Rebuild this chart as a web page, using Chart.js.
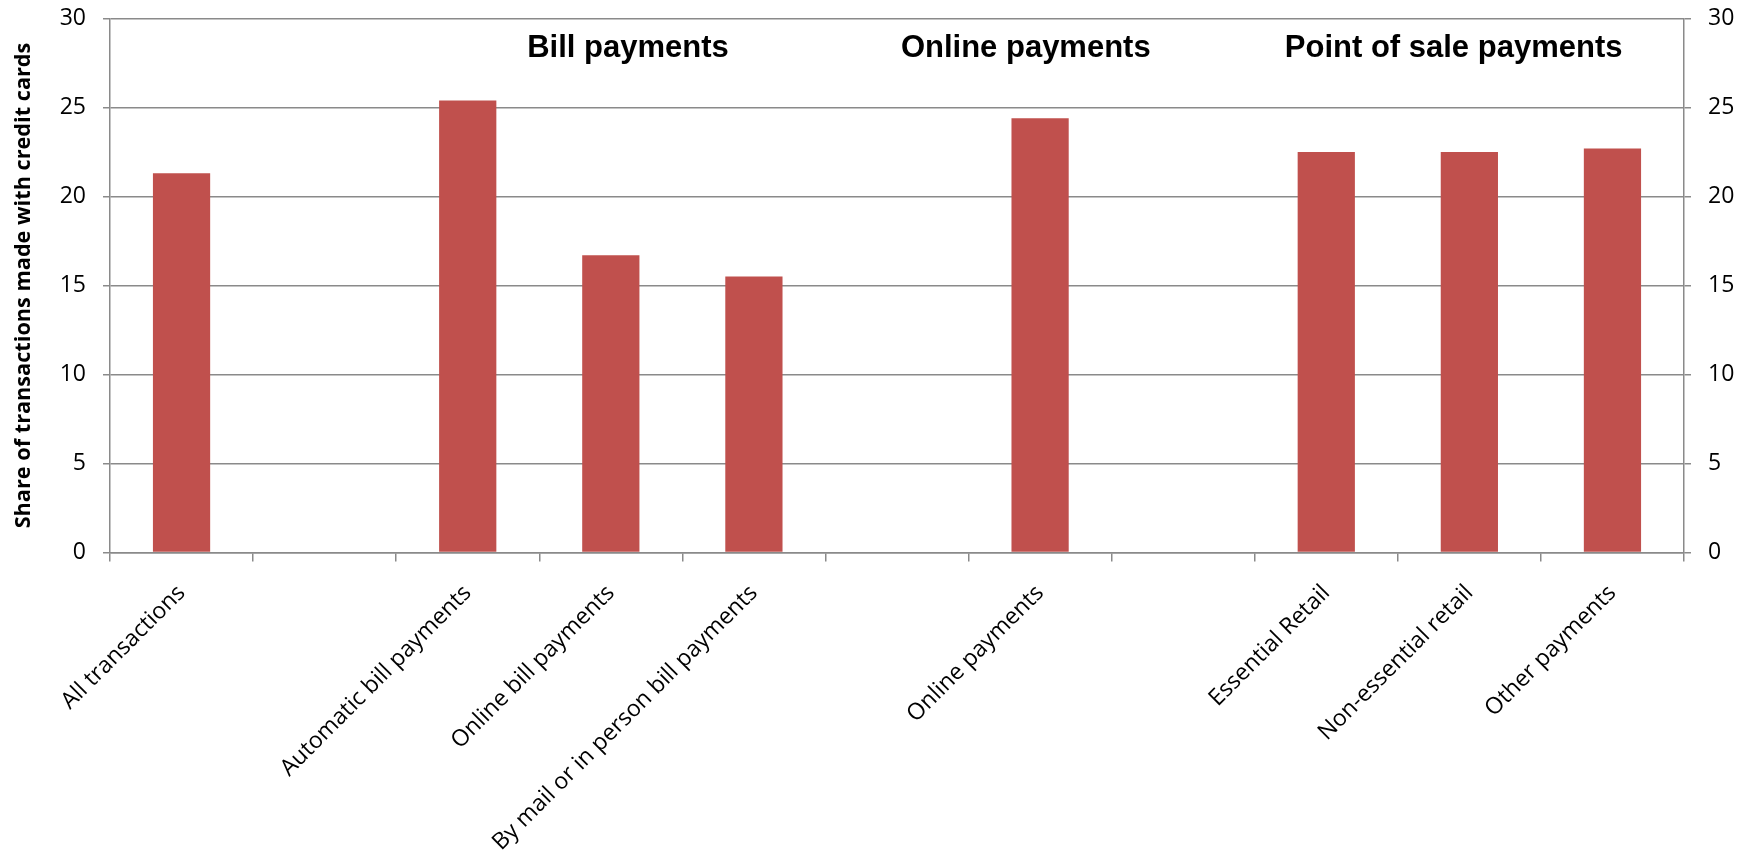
<!DOCTYPE html>
<html>
<head>
<meta charset="utf-8">
<script src="https://cdn.jsdelivr.net/npm/chart.js@4.4.0/dist/chart.umd.min.js"></script>
<style>
  body { margin: 0; background: #fff; }
</style>
</head>
<body>
<canvas id="myChart" width="1752" height="853"></canvas>
<script>
// chart data
const categories = ['All transactions', '', 'Automatic bill payments', 'Online bill payments',
    'By mail or in person bill payments', '', 'Online payments', '', 'Essential Retail',
    'Non-essential retail', 'Other payments']
const creditShare = [21.3, null, 25.4, 16.7, 15.5, null, 24.4, null, 22.5, 22.5, 22.7]
const yTicks = [0, 5, 10, 15, 20, 25, 30]
const groupLabels = ['Bill payments', 'Online payments', 'Point of sale payments']
const groupAt = [3.12, 5.9, 8.89]   // category position of each group heading

const gridGrey = '#8a8a8a'

// draws the group headings inside the plot area
const groupHeadings = {
    id: 'groupHeadings',
    afterDatasetsDraw(chart) {
        const { ctx, scales } = chart
        ctx.save()
        ctx.font = 'bold 31px "Liberation Sans", Arial, sans-serif'
        ctx.fillStyle = '#000'
        ctx.textAlign = 'center'
        ctx.textBaseline = 'alphabetic'
        groupLabels.forEach((label, i) => {
            ctx.fillText(label, scales.x.getPixelForValue(groupAt[i]), scales.y.getPixelForValue(27.85))
        })
        ctx.restore()
    }
}

const tickFont = { family: '"Open Sans", sans-serif', size: 23 }

// fixed axis sizes so the plot area lands where the original one is
function fixWidth(w) {
    return scale => {
        scale.width = w
        scale.paddingTop = 0
        scale.paddingBottom = 0
    }
}

const ctx = document.getElementById('myChart')
new Chart(ctx, {
    type: 'bar',
    data: {
        labels: categories,
        datasets: [{
            data: creditShare,
            backgroundColor: '#c0504d',
            barPercentage: 0.4,
            categoryPercentage: 1.0
        }]
    },
    options: {
        responsive: false,
        animation: false,
        layout: { padding: { top: 18.5, left: 0, right: 0, bottom: 0 } },
        plugins: {
            legend: { display: false },
            tooltip: { enabled: false }
        },
        scales: {
            x: {
                grid: { drawOnChartArea: false, color: gridGrey, lineWidth: 1.5, tickLength: 9, offset: true },
                border: { color: gridGrey, width: 1.5 },
                ticks: {
                    autoSkip: false, maxRotation: 45, minRotation: 45, color: '#000',
                    font: { family: '"Open Sans", sans-serif', size: 23 }, padding: 18
                },
                afterFit(scale) {
                    scale.height = 300.5
                    scale.paddingLeft = 0
                    scale.paddingRight = 0
                }
            },
            y: {
                min: 0, max: 30,
                afterBuildTicks(scale) { scale.ticks = yTicks.map(v => ({ value: v })) },
                grid: { color: gridGrey, lineWidth: 1.5, tickLength: 7 },
                border: { color: gridGrey, width: 1.5 },
                ticks: { color: '#000', font: tickFont, padding: 17 },
                title: {
                    display: true,
                    text: 'Share of transactions made with credit cards',
                    color: '#000',
                    font: { family: '"Open Sans", sans-serif', size: 21.7, weight: 'bold' },
                    padding: { top: 11, bottom: 0 }
                },
                afterFit: fixWidth(110)
            },
            y2: {
                position: 'right',
                min: 0, max: 30,
                afterBuildTicks(scale) { scale.ticks = yTicks.map(v => ({ value: v })) },
                grid: { drawOnChartArea: false, color: gridGrey, lineWidth: 1.5, tickLength: 7 },
                border: { color: gridGrey, width: 1.5 },
                ticks: { color: '#000', font: tickFont, padding: 17 },
                afterFit: fixWidth(68)
            }
        }
    },
    plugins: [groupHeadings]
})
</script>
</body>
</html>
